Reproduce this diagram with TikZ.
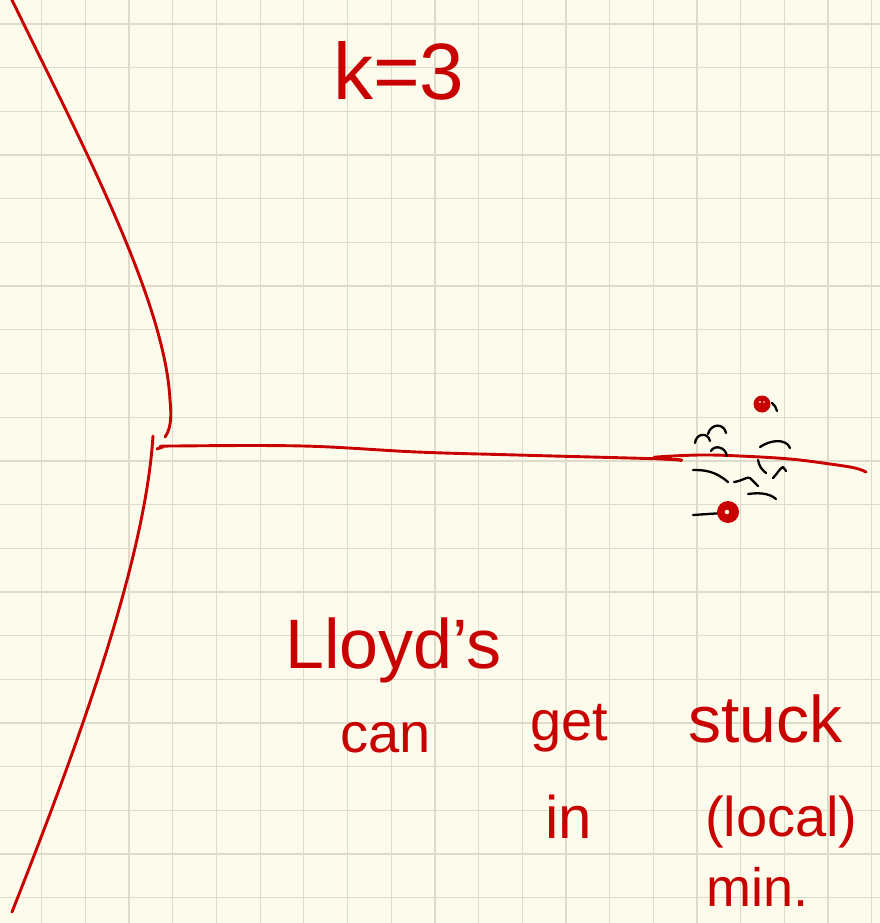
\documentclass[tikz,border=0pt]{standalone}
\usepackage{fontspec}
\setmainfont{Liberation Sans}
\definecolor{paper}{RGB}{253,251,236}
\definecolor{gridc}{RGB}{222,219,205}
\definecolor{pen}{RGB}{200,0,0}
\begin{document}
\begin{tikzpicture}[x=1pt,y=-1pt,
  redline/.style={draw=pen,line width=2.9pt,line cap=round,line join=round},
  scrib/.style={draw=black,line width=2.3pt,line cap=round,line join=round},
  handtext/.style={text=pen,inner sep=0pt,anchor=base west}]
\useasboundingbox (0,0) rectangle (880,923);
\clip (0,0) rectangle (880,923);
\fill[paper] (0,0) rectangle (880,923);
\foreach \i in {0,...,19} {\draw[gridc,line width=1.3pt] ({41.7+43.69*\i},0) -- ({41.7+43.69*\i},923);}
\foreach \j in {0,...,20} {\draw[gridc,line width=1.3pt] (0,{24+43.69*\j}) -- (880,{24+43.69*\j});}

% boundary curves
\draw[redline] (6,-10) -- (12,0) .. controls (80,140) and (165,300) .. (170,400)
  .. controls (172,420) and (170,430) .. (165,437);
\draw[redline] (153,436) .. controls (145,560) and (80,740) .. (12,912);
\draw[redline] plot[smooth,tension=0.6] coordinates {(157,449) (163,447) (173,446) (303,446) (417,452) (517,455) (663,459) (680,460.5)};
\draw[redline] plot[smooth,tension=0.6] coordinates {(680,460) (660,458.5) (657,457) (700,455) (740,456) (790,459) (830,464) (855,468) (866,472)};

% data scribbles
\draw[scrib] (695,443) .. controls (696,433) and (708,432) .. (710,441);
\draw[scrib] (708,434) .. controls (711,423) and (724,423) .. (726,433);
\draw[scrib] (711,451) .. controls (714,445) and (725,446) .. (727,456);
\draw[scrib] (760,447) .. controls (770,440) and (786,438) .. (790,448);
\draw[scrib] (758,460) .. controls (759,466) and (762,470) .. (766,473);
\draw[scrib] (773,478) .. controls (777,474) and (780,468) .. (783,467) -- (786,471);
\draw[scrib] (693,470) .. controls (705,470) and (715,471) .. (728,482);
\draw[scrib] (734,482) .. controls (742,481) and (748,476) .. (750,478) -- (758,486);
\draw[scrib] (748,494) .. controls (756,493) and (768,492) .. (776,499);
\draw[scrib] (693,515) -- (723,513);
\draw[scrib] (772,403) .. controls (775,405) and (776,408) .. (777,411);

% centroids
\fill[pen] (762,404) circle (8.5);
\fill[paper] (760,402) circle (1.1);
\fill[paper] (764,402) circle (0.9);
\fill[pen] (728,512) circle (11);
\fill[paper] (727,512) circle (2.2);

% texts
\node[handtext,font=\fontsize{80}{90}\selectfont] (k) at (333,100) {k=3};
\node[handtext,font=\fontsize{70}{80}\selectfont] (lloyd) at (285,668) {Lloyd's};
\node[handtext,font=\fontsize{56}{64}\selectfont] (can) at (340,752) {can};
\node[handtext,font=\fontsize{56}{64}\selectfont] (get) at (530,740) {get};
\node[handtext,font=\fontsize{66}{72}\selectfont] (stuck) at (688,742) {stuck};
\node[handtext,font=\fontsize{60}{66}\selectfont] (in) at (545,838) {in};
\node[handtext,font=\fontsize{56}{64}\selectfont] (local) at (705,836) {(local)};
\node[handtext,text depth=0pt,font=\fontsize{54}{60}\selectfont] (min) at (706,906) {min.};
\end{tikzpicture}
\end{document}
